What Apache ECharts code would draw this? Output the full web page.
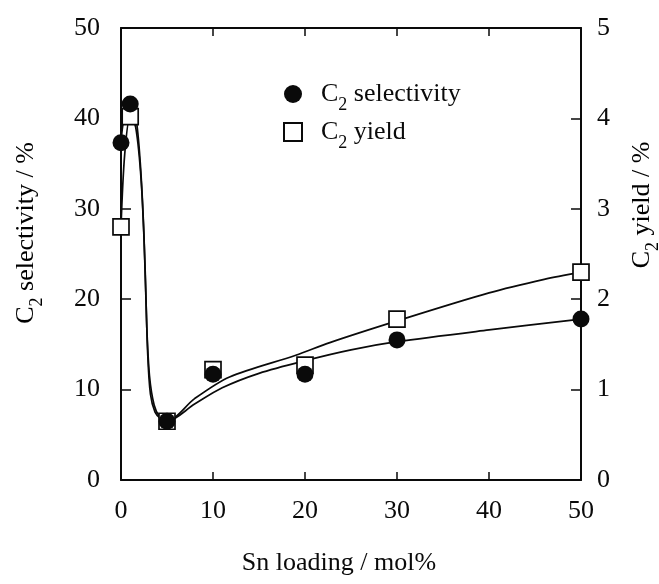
<!DOCTYPE html>
<html>
<head>
<meta charset="utf-8">
<script src="https://cdn.jsdelivr.net/npm/echarts@6/dist/echarts.min.js"></script>
<style>
html,body{margin:0;padding:0;background:#fff;}
#main{width:659px;height:584px;}
</style>
</head>
<body>
<div id="main"></div>
<script>
// Measured data points
var loading = [0, 1, 5, 10, 20, 30, 50];
var selectivity = [37.3, 41.6, 6.5, 11.7, 11.7, 15.5, 17.8];   // C2 selectivity / %
var yieldVals = [2.80, 4.02, 0.65, 1.22, 1.27, 1.78, 2.30];     // C2 yield / %

// Hand-drawn guide curves
var selCurveX = [0, 0.3, 1, 1.6, 2.1, 2.5, 2.8, 3.1, 3.6, 4.2, 5, 8, 11, 15, 20, 25, 30, 40, 50];
var selCurveY = [37.3, 39.8, 41.4, 40.2, 35, 27, 17, 11.5, 8.3, 7.0, 6.5, 8.4, 10.2, 11.8, 13.2, 14.4, 15.3, 16.6, 17.8];
var yieldCurveX = [0, 0.4, 1, 1.6, 2.2, 2.6, 2.9, 3.2, 3.7, 4.3, 5, 8, 11.8, 19, 22.7, 30, 40, 46, 50];
var yieldCurveY = [2.80, 3.6, 4.02, 3.9, 3.3, 2.4, 1.4, 0.95, 0.75, 0.68, 0.65, 0.90, 1.14, 1.38, 1.52, 1.76, 2.07, 2.22, 2.30];

var xTicks = [0, 10, 20, 30, 40, 50];
var leftTicks = [0, 10, 20, 30, 40, 50];
var rightTicks = [0, 1, 2, 3, 4, 5];

function pairs(xs, ys) { return xs.map(function (x, i) { return [x, ys[i]]; }); }

var FONT = '"Liberation Serif", "DejaVu Serif", serif';
var FS = 26;
var INK = '#0a0a0a';
var rich = {
  n: { fontFamily: FONT, fontSize: FS, color: INK },
  s: { fontFamily: FONT, fontSize: 18, color: INK, verticalAlign: 'bottom', padding: [0, 0, -7, 0] }
};

var chart = echarts.init(document.getElementById('main'), null, { renderer: 'canvas' });
var axisLine = { show: true, onZero: false, lineStyle: { color: INK, width: 2 } };
var tickStyle = { color: INK, width: 1.5 };

chart.setOption({
  backgroundColor: '#fff',
  animation: false,
  grid: { left: 121, right: 78, top: 28, bottom: 104, containLabel: false },
  legend: {
    orient: 'vertical',
    left: 278,
    top: 76,
    itemWidth: 18,
    itemHeight: 18,
    itemGap: 5,
    data: ['C2 selectivity', 'C2 yield'],
    formatter: function (name) {
      return name === 'C2 selectivity' ? '{n|C}{s|2}{n| selectivity}' : '{n|C}{s|2}{n| yield}';
    },
    textStyle: { rich: rich, padding: [0, 0, 0, 14] }
  },
  xAxis: [{
    type: 'value', min: 0, max: 50, interval: 10, position: 'bottom',
    axisLine: axisLine,
    axisTick: { show: true, inside: true, length: 8, lineStyle: tickStyle },
    axisLabel: { margin: 18, fontFamily: FONT, fontSize: FS, color: INK,
      formatter: function (v) { return xTicks.indexOf(v) >= 0 ? String(v) : ''; } },
    splitLine: { show: false }
  }, {
    type: 'value', min: 0, max: 50, interval: 10, position: 'top',
    axisLine: axisLine,
    axisTick: { show: true, inside: true, length: 8, lineStyle: tickStyle },
    axisLabel: { show: false },
    splitLine: { show: false }
  }],
  yAxis: [{
    type: 'value', min: 0, max: 50, interval: 10, position: 'left',
    axisLine: axisLine,
    axisTick: { show: true, inside: true, length: 10, lineStyle: tickStyle },
    axisLabel: { margin: 21, fontFamily: FONT, fontSize: FS, color: INK,
      formatter: function (v) { return leftTicks.indexOf(v) >= 0 ? String(v) : ''; } },
    splitLine: { show: false }
  }, {
    type: 'value', min: 0, max: 5, interval: 1, position: 'right',
    axisLine: axisLine,
    axisTick: { show: true, inside: true, length: 10, lineStyle: tickStyle },
    axisLabel: { margin: 16, fontFamily: FONT, fontSize: FS, color: INK,
      formatter: function (v) { return rightTicks.indexOf(v) >= 0 ? String(v) : ''; } },
    splitLine: { show: false }
  }],
  series: [{
    name: 'selCurve', type: 'line', xAxisIndex: 0, yAxisIndex: 0,
    data: pairs(selCurveX, selCurveY), smooth: 0.3, showSymbol: false, symbol: 'none',
    lineStyle: { color: INK, width: 1.7 }, z: 2, silent: true
  }, {
    name: 'yieldCurve', type: 'line', xAxisIndex: 0, yAxisIndex: 1,
    data: pairs(yieldCurveX, yieldCurveY), smooth: 0.3, showSymbol: false, symbol: 'none',
    lineStyle: { color: INK, width: 1.7 }, z: 2, silent: true
  }, {
    name: 'C2 yield', type: 'scatter', xAxisIndex: 0, yAxisIndex: 1,
    data: pairs(loading, yieldVals), symbol: 'rect', symbolSize: 16,
    itemStyle: { color: '#fff', borderColor: INK, borderWidth: 1.7, opacity: 1 }, z: 3
  }, {
    name: 'C2 selectivity', type: 'scatter', xAxisIndex: 0, yAxisIndex: 0,
    data: pairs(loading, selectivity), symbol: 'circle', symbolSize: 17,
    itemStyle: { color: INK, opacity: 1 }, z: 4
  }],
  graphic: [{
    type: 'text', x: 26, y: 233, rotation: Math.PI / 2,
    style: { text: '{n|C}{s|2}{n| selectivity / %}', rich: rich, align: 'center', verticalAlign: 'middle' }
  }, {
    type: 'text', x: 642, y: 205, rotation: Math.PI / 2,
    style: { text: '{n|C}{s|2}{n| yield / %}', rich: rich, align: 'center', verticalAlign: 'middle' }
  }, {
    type: 'text', x: 339, y: 563,
    style: { text: 'Sn loading / mol%', fontFamily: FONT, fontSize: FS, fill: INK, align: 'center', verticalAlign: 'middle' }
  }]
});
</script>
</body>
</html>
